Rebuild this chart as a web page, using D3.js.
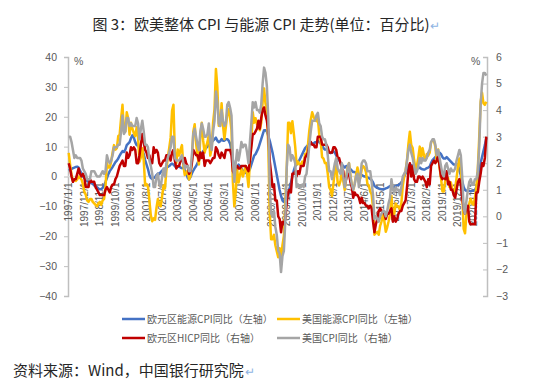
<!DOCTYPE html>
<html>
<head>
<meta charset="utf-8">
<script src="https://cdn.jsdelivr.net/npm/d3@7"></script>
<style>
  body { margin: 0; background: #fff; }
  text { font-family: "Liberation Sans", Arial, sans-serif; }
  .cjk { font-family: "Noto Sans CJK SC", sans-serif; }
</style>
</head>
<body>
<div id="main"></div>
<script>
// monthly data, 1997/1 - 2021/8
var startYear = 1997;
var nMonths = 296;

// 欧元区能源CPI同比 (left axis)
var euroEnergy = [
  2.0, 2.2, 2.5, 2.8, 3.0, 3.2, 3.3, 3.0, 2.0, 1.0, 0.0, -0.5,
  -1.0, -1.5, -1.8, -2.0, -2.2, -2.5, -3.0, -3.3, -3.6, -4.0, -4.3, -4.2,
  -3.8, -3.0, -1.8, -0.5, 0.8, 1.8, 2.5, 3.2, 4.0, 4.8, 5.3, 6.0,
  7.0, 7.8, 8.5, 8.2, 9.0, 10.5, 11.0, 11.5, 12.8, 13.8, 13.0, 11.5,
  10.5, 10.8, 9.0, 8.5, 8.8, 7.5, 5.5, 4.0, 2.5, 0.5, -0.5, -0.8,
  -0.5, -0.2, 0.5, 1.0, 0.8, 1.5, 2.0, 2.3, 2.6, 3.0, 3.2, 3.5,
  4.0, 4.3, 4.0, 3.5, 3.0, 3.2, 3.4, 3.0, 2.8, 3.0, 2.2, 1.2,
  -0.4, -1.0, -0.2, 1.0, 2.0, 2.8, 3.5, 4.5, 5.5, 6.5, 7.5, 8.5,
  9.0, 9.5, 10.0, 11.0, 10.5, 11.5, 12.0, 12.5, 13.0, 12.0, 11.5, 11.8,
  12.5, 12.0, 12.0, 12.5, 12.5, 12.0, 11.0, 8.5, 5.5, 3.5, 3.5, 3.0,
  4.0, 3.5, 2.8, 2.0, 1.5, 1.2, 1.0, 1.5, 2.5, 4.0, 5.5, 7.0,
  7.5, 8.5, 9.5, 11.0, 12.5, 14.0, 15.5, 15.5, 15.0, 13.5, 12.0, 10.0,
  8.0, 5.5, 3.0, 0.5, -2.0, -4.5, -6.5, -8.0, -8.5, -8.0, -6.5, -5.5,
  -4.0, -2.0, 0.0, 2.0, 3.5, 4.0, 5.0, 5.5, 6.5, 7.5, 8.5, 9.5,
  10.0, 10.5, 11.0, 11.5, 11.0, 11.0, 11.5, 11.5, 12.0, 11.5, 11.0, 10.5,
  9.5, 9.0, 9.0, 8.5, 8.0, 7.8, 8.0, 8.5, 8.0, 7.0, 6.0, 5.5,
  4.5, 4.0, 3.5, 3.0, 3.5, 3.5, 3.0, 2.5, 2.0, 1.5, 1.5, 1.2,
  1.0, 0.8, 0.5, 0.5, 0.2, 0.0, 0.0, -0.3, -0.5, -0.8, -1.2, -2.0,
  -3.2, -3.5, -3.8, -4.0, -4.2, -4.3, -4.3, -4.2, -4.0, -3.8, -3.5, -3.2,
  -3.5, -3.8, -3.5, -3.2, -3.0, -2.8, -2.5, -2.0, -1.0, 0.0, 1.0, 2.0,
  3.5, 4.0, 3.8, 3.5, 3.2, 3.0, 2.8, 2.8, 3.0, 2.6, 2.4, 2.3,
  2.5, 2.8, 3.0, 3.3, 4.5, 5.5, 6.0, 6.5, 7.0, 7.5, 8.0, 7.5,
  6.5, 6.0, 6.0, 6.5, 6.0, 5.5, 5.0, 4.5, 4.0, 4.0, 4.0, 4.0,
  2.0, 0.5, -1.5, -3.5, -4.5, -4.8, -4.5, -4.8, -5.0, -4.8, -4.8, -4.5,
  -3.5, -2.0, 1.5, 4.5, 6.5, 8.5, 10.5, 13.0
];

// 美国能源CPI同比 (left axis)
var usEnergy = [
  7.9, 4.0, 0.5, -1.5, -1.0, -1.5, -1.0, 0.0, -0.5, -1.0, -2.5, -5.0,
  -6.0, -8.0, -8.5, -7.5, -7.5, -8.5, -9.0, -9.5, -10.0, -9.0, -8.5, -9.5,
  -8.0, -7.5, -3.5, 4.5, 3.0, 3.0, 5.0, 8.0, 10.5, 9.0, 9.5, 13.5,
  14.0, 19.5, 24.0, 15.0, 15.0, 21.5, 19.5, 14.0, 18.0, 16.0, 14.5, 13.5,
  16.5, 13.0, 5.0, 6.5, 9.5, 5.5, -3.0, -2.5, -3.5, -8.0, -13.0, -15.0,
  -14.0, -14.5, -10.5, -7.5, -9.5, -10.0, -6.5, -3.0, -4.0, 2.0, 6.5, 9.5,
  13.0, 22.0, 24.0, 8.0, 4.5, 9.0, 7.0, 9.0, 10.5, 3.5, 0.5, 1.0,
  2.0, -1.0, 0.0, 5.0, 15.0, 17.5, 11.0, 7.0, 4.0, 13.5, 18.0, 12.0,
  8.0, 10.0, 11.5, 14.0, 7.0, 9.5, 18.0, 22.5, 36.0, 30.0, 17.0, 17.0,
  24.5, 17.0, 12.5, 16.5, 21.0, 22.5, 19.5, 15.5, -2.0, -10.0, -5.0, 2.5,
  -2.0, 0.5, 2.5, 0.0, 1.5, 3.5, 1.0, -3.5, 5.0, 11.5, 21.5, 18.0,
  19.5, 17.5, 17.0, 15.5, 18.0, 25.0, 29.5, 24.5, 22.0, 10.0, -12.0, -21.0,
  -21.0, -19.5, -23.0, -25.0, -27.0, -24.0, -28.0, -23.0, -20.0, -9.0, 2.5, 18.0,
  18.0, 14.5, 18.5, 14.5, 10.0, 4.0, 5.0, 4.0, 4.0, 5.0, 4.0, 7.5,
  7.5, 10.5, 15.5, 19.0, 21.5, 20.0, 19.0, 18.5, 19.5, 14.0, 12.0, 6.5,
  6.0, 4.5, 4.5, 1.0, -3.5, -4.5, -6.5, -2.5, 2.0, 4.0, -2.0, -3.0,
  -1.5, 2.5, -1.5, -4.5, 0.0, 3.0, 4.5, 0.5, -3.0, -4.5, -2.5, 0.5,
  3.0, 0.5, -0.5, 2.5, 3.5, 3.0, 1.5, -2.5, -3.0, -5.0, -6.0, -10.5,
  -19.5, -19.0, -18.5, -19.5, -16.5, -15.0, -12.5, -15.0, -18.5, -17.0, -15.0, -12.5,
  -6.5, -12.5, -12.5, -9.0, -10.0, -10.0, -11.0, -9.0, -3.0, 0.0, 2.0, 5.5,
  11.0, 15.0, 10.5, 9.5, 5.5, 2.5, 3.5, 6.5, 10.0, 6.5, 9.5, 7.0,
  5.5, 7.5, 7.0, 8.0, 11.5, 12.0, 12.0, 10.0, 5.0, 9.0, 3.0, -0.5,
  -5.0, -5.0, -1.5, -0.5, -0.5, -3.5, -2.0, -4.5, -5.0, -4.0, -0.5, 3.5,
  6.0, 3.0, -5.5, -17.5, -19.0, -12.5, -11.0, -9.0, -7.5, -9.0, -9.5, -7.0,
  -3.5, 2.5, 13.0, 25.0, 28.0, 24.5, 24.0, 25.0
];

// 欧元区HICP同比 (right axis)
var euroHicp = [
  2.0, 1.8, 1.5, 1.3, 1.4, 1.4, 1.6, 1.8, 1.6, 1.5, 1.6, 1.5,
  1.1, 1.1, 1.1, 1.4, 1.3, 1.3, 1.3, 1.1, 1.0, 0.9, 0.8, 0.8,
  0.8, 0.8, 1.0, 1.1, 1.0, 0.9, 1.1, 1.2, 1.2, 1.4, 1.5, 1.7,
  1.9, 2.0, 2.1, 1.9, 1.9, 2.4, 2.2, 2.3, 2.6, 2.5, 2.6, 2.5,
  2.0, 2.0, 2.3, 2.7, 3.1, 2.8, 2.5, 2.4, 2.2, 2.3, 2.0, 2.0,
  2.6, 2.4, 2.5, 2.4, 2.0, 1.9, 2.0, 2.1, 2.1, 2.3, 2.3, 2.3,
  2.1, 2.4, 2.5, 2.1, 1.8, 1.9, 1.9, 2.1, 2.2, 2.0, 2.2, 2.0,
  1.9, 1.6, 1.7, 2.0, 2.5, 2.4, 2.3, 2.3, 2.1, 2.4, 2.2, 2.4,
  1.9, 2.1, 2.1, 2.1, 2.0, 2.1, 2.2, 2.2, 2.6, 2.5, 2.3, 2.2,
  2.4, 2.3, 2.2, 2.5, 2.5, 2.5, 2.5, 2.3, 1.7, 1.6, 1.9, 1.9,
  1.8, 1.8, 1.9, 1.9, 1.9, 1.9, 1.8, 1.7, 2.1, 2.6, 3.1, 3.1,
  3.2, 3.3, 3.6, 3.3, 3.7, 4.0, 4.1, 3.8, 3.6, 3.2, 2.1, 1.6,
  1.1, 1.2, 0.6, 0.6, 0.0, -0.1, -0.6, -0.2, -0.3, -0.1, 0.5, 0.9,
  1.0, 0.9, 1.6, 1.6, 1.7, 1.5, 1.7, 1.6, 1.9, 1.9, 1.9, 2.2,
  2.3, 2.4, 2.7, 2.8, 2.7, 2.7, 2.6, 2.6, 3.0, 3.0, 3.0, 2.7,
  2.7, 2.7, 2.7, 2.6, 2.4, 2.4, 2.4, 2.6, 2.6, 2.5, 2.2, 2.2,
  2.0, 1.8, 1.7, 1.2, 1.4, 1.6, 1.6, 1.3, 1.1, 0.7, 0.9, 0.8,
  0.8, 0.7, 0.5, 0.7, 0.5, 0.5, 0.4, 0.4, 0.3, 0.4, 0.3, -0.2,
  -0.6, -0.3, -0.1, 0.2, 0.3, 0.2, 0.2, 0.1, -0.1, 0.1, 0.1, 0.2,
  0.3, -0.2, 0.0, -0.2, -0.1, 0.1, 0.2, 0.2, 0.4, 0.5, 0.6, 1.1,
  1.7, 2.0, 1.5, 1.9, 1.4, 1.3, 1.3, 1.5, 1.5, 1.4, 1.5, 1.4,
  1.3, 1.1, 1.4, 1.2, 1.9, 2.0, 2.1, 2.0, 2.1, 2.3, 1.9, 1.5,
  1.4, 1.5, 1.4, 1.7, 1.2, 1.3, 1.0, 1.0, 0.8, 0.7, 1.0, 1.3,
  1.4, 1.2, 0.7, 0.3, 0.1, 0.3, 0.4, -0.2, -0.3, -0.3, -0.3, -0.3,
  0.9, 0.9, 1.3, 1.6, 2.0, 1.9, 2.2, 3.0
];

// 美国CPI同比 (right axis)
var usCpi = [
  3.0, 3.0, 2.8, 2.5, 2.2, 2.3, 2.2, 2.2, 2.2, 2.1, 1.8, 1.7,
  1.6, 1.4, 1.4, 1.4, 1.7, 1.7, 1.7, 1.6, 1.5, 1.5, 1.5, 1.6,
  1.7, 1.6, 1.7, 2.3, 2.1, 2.0, 2.1, 2.3, 2.6, 2.6, 2.6, 2.7,
  2.7, 3.2, 3.8, 3.1, 3.2, 3.7, 3.7, 3.4, 3.5, 3.4, 3.4, 3.4,
  3.7, 3.5, 2.9, 3.3, 3.6, 3.2, 2.7, 2.7, 2.6, 2.1, 1.9, 1.6,
  1.1, 1.1, 1.5, 1.6, 1.2, 1.1, 1.5, 1.8, 1.5, 2.0, 2.2, 2.4,
  2.6, 3.0, 3.0, 2.2, 2.1, 2.1, 2.1, 2.2, 2.3, 2.0, 1.8, 1.9,
  1.9, 1.7, 1.7, 2.3, 3.1, 3.3, 3.0, 2.7, 2.5, 3.2, 3.5, 3.3,
  3.0, 3.0, 3.1, 3.5, 2.8, 2.5, 3.2, 3.6, 4.7, 4.3, 3.5, 3.4,
  4.0, 3.6, 3.4, 3.5, 4.2, 4.3, 4.1, 3.8, 2.1, 1.3, 2.0, 2.5,
  2.1, 2.4, 2.8, 2.6, 2.7, 2.7, 2.4, 2.0, 2.8, 3.5, 4.3, 4.1,
  4.3, 4.0, 4.0, 3.9, 4.2, 5.0, 5.6, 5.4, 4.9, 3.7, 1.1, 0.1,
  0.0, 0.2, -0.4, -0.7, -1.3, -1.4, -2.1, -1.5, -1.3, -0.2, 1.8, 2.7,
  2.6, 2.1, 2.3, 2.2, 2.0, 1.1, 1.2, 1.1, 1.1, 1.2, 1.1, 1.5,
  1.6, 2.1, 2.7, 3.2, 3.6, 3.6, 3.6, 3.8, 3.9, 3.5, 3.4, 3.0,
  2.9, 2.9, 2.7, 2.3, 1.7, 1.7, 1.4, 1.7, 2.0, 2.2, 1.8, 1.7,
  1.6, 2.0, 1.5, 1.1, 1.4, 1.8, 2.0, 1.5, 1.2, 1.0, 1.2, 1.5,
  1.6, 1.1, 1.5, 2.0, 2.1, 2.1, 2.0, 1.7, 1.7, 1.7, 1.3, 0.8,
  -0.1, 0.0, -0.1, -0.2, 0.0, 0.1, 0.2, 0.2, 0.0, 0.2, 0.5, 0.7,
  1.4, 1.0, 0.9, 1.1, 1.0, 1.0, 0.8, 1.1, 1.5, 1.6, 1.7, 2.1,
  2.5, 2.7, 2.4, 2.2, 1.9, 1.6, 1.7, 1.9, 2.2, 2.0, 2.2, 2.1,
  2.1, 2.2, 2.4, 2.5, 2.8, 2.9, 2.9, 2.7, 2.3, 2.5, 2.2, 1.9,
  1.6, 1.5, 1.9, 2.0, 1.8, 1.6, 1.8, 1.7, 1.7, 1.8, 2.1, 2.3,
  2.5, 2.3, 1.5, 0.3, 0.1, 0.6, 1.0, 1.3, 1.4, 1.2, 1.2, 1.4,
  1.4, 1.7, 2.6, 4.2, 5.0, 5.4, 5.4, 5.3
];

var leftTicks = [-40, -30, -20, -10, 0, 10, 20, 30, 40];
var rightTicks = [-3, -2, -1, 0, 1, 2, 3, 4, 5, 6];
var labelEvery = 11;

var seriesNames = ['欧元区能源CPI同比（左轴）', '美国能源CPI同比（左轴）', '欧元区HICP同比（右轴）', '美国CPI同比（右轴）'];
var seriesColors = ['#4472c4', '#ffc000', '#c00000', '#a5a5a5'];

var months = d3.range(nMonths).map(function(i) {
  return (startYear + Math.floor(i / 12)) + '/' + (i % 12 + 1) + '/1';
});

var width = 550;
var height = 390;

var svg = d3.select('#main')
  .append('svg')
  .attr('width', width)
  .attr('height', height);

var x = d3.scaleBand()
  .domain(months)
  .range([68, 487]);

var yLeft = d3.scaleLinear()
  .domain([-40, 40])
  .range([296, 57]);

var yRight = d3.scaleLinear()
  .domain([-3, 6])
  .range([296, 57]);

// title
svg.append('text')
  .attr('class', 'cjk')
  .attr('x', 261)
  .attr('y', 30)
  .attr('text-anchor', 'middle')
  .attr('font-size', 15)
  .attr('fill', '#262626')
  .text('图 3：欧美整体 CPI 与能源 CPI 走势(单位：百分比)');

svg.append('text')
  .attr('x', 430)
  .attr('y', 30)
  .attr('font-size', 12)
  .attr('fill', '#8fb4e3')
  .text('↵');

// left axis
var leftAxis = svg.append('g')
  .attr('transform', 'translate(68,0)')
  .call(d3.axisLeft(yLeft).tickValues(leftTicks).tickSize(4).tickPadding(7));
leftAxis.select('.domain').attr('stroke', '#bfbfbf').attr('stroke-width', 1.5);
leftAxis.selectAll('.tick line').attr('stroke', '#bfbfbf');
leftAxis.selectAll('.tick text')
  .attr('font-size', 10.5)
  .attr('fill', '#595959')
  .attr('font-family', '"Liberation Sans", Arial, sans-serif');

// right axis
var rightAxis = svg.append('g')
  .attr('transform', 'translate(487,0)')
  .call(d3.axisRight(yRight).tickValues(rightTicks).tickSize(-4).tickPadding(9));
rightAxis.select('.domain').attr('stroke', '#bfbfbf').attr('stroke-width', 1.5);
rightAxis.selectAll('.tick line').attr('stroke', '#bfbfbf');
rightAxis.selectAll('.tick text')
  .attr('font-size', 10.5)
  .attr('fill', '#595959')
  .attr('font-family', '"Liberation Sans", Arial, sans-serif');

svg.append('text')
  .attr('x', 74)
  .attr('y', 65)
  .attr('font-size', 10.5)
  .attr('fill', '#595959')
  .text('%');

svg.append('text')
  .attr('x', 471)
  .attr('y', 65)
  .attr('font-size', 10.5)
  .attr('fill', '#595959')
  .text('%');

// category axis at left zero
svg.append('line')
  .attr('x1', 68)
  .attr('x2', 487)
  .attr('y1', yLeft(0))
  .attr('y2', yLeft(0))
  .attr('stroke', '#d9d9d9')
  .attr('stroke-width', 1.5);

var tickMonths = months.filter(function(d, i) { return i % labelEvery === 0; });

svg.append('g')
  .selectAll('text')
  .data(tickMonths)
  .enter().append('text')
  .attr('transform', function(d) {
    return 'translate(' + (x(d) + x.bandwidth() / 2) + ',' + (yLeft(0) + 6) + ') rotate(-90)';
  })
  .attr('dy', '0.35em')
  .attr('text-anchor', 'end')
  .attr('font-size', 10)
  .attr('fill', '#595959')
  .text(function(d) { return d; });

// lines
var series = [
  { values: euroEnergy, y: yLeft },
  { values: usEnergy, y: yLeft },
  { values: euroHicp, y: yRight },
  { values: usCpi, y: yRight }
];

series.forEach(function(s, k) {
  var line = d3.line()
    .x(function(d, i) { return x(months[i]) + x.bandwidth() / 2; })
    .y(function(d) { return s.y(d); });

  svg.append('path')
    .datum(s.values)
    .attr('fill', 'none')
    .attr('stroke', seriesColors[k])
    .attr('stroke-width', 2.5)
    .attr('stroke-linejoin', 'round')
    .attr('d', line);
});

// legend
var legendPos = [[122, 319], [277, 319], [122, 338], [277, 338]];

var legend = svg.append('g')
  .selectAll('g')
  .data(seriesNames)
  .enter().append('g')
  .attr('transform', function(d, i) { return 'translate(' + legendPos[i][0] + ',' + legendPos[i][1] + ')'; });

legend.append('line')
  .attr('x1', 0)
  .attr('x2', 23)
  .attr('stroke', function(d, i) { return seriesColors[i]; })
  .attr('stroke-width', 2.5);

legend.append('text')
  .attr('class', 'cjk')
  .attr('x', 25)
  .attr('dy', '0.35em')
  .attr('font-size', 10)
  .attr('fill', '#595959')
  .text(function(d) { return d; });

// source
svg.append('text')
  .attr('class', 'cjk')
  .attr('x', 13)
  .attr('y', 376)
  .attr('font-size', 15)
  .attr('fill', '#262626')
  .text('资料来源：Wind，中国银行研究院');

svg.append('text')
  .attr('x', 245)
  .attr('y', 376)
  .attr('font-size', 12)
  .attr('fill', '#8fb4e3')
  .text('↵');
</script>
</body>
</html>
